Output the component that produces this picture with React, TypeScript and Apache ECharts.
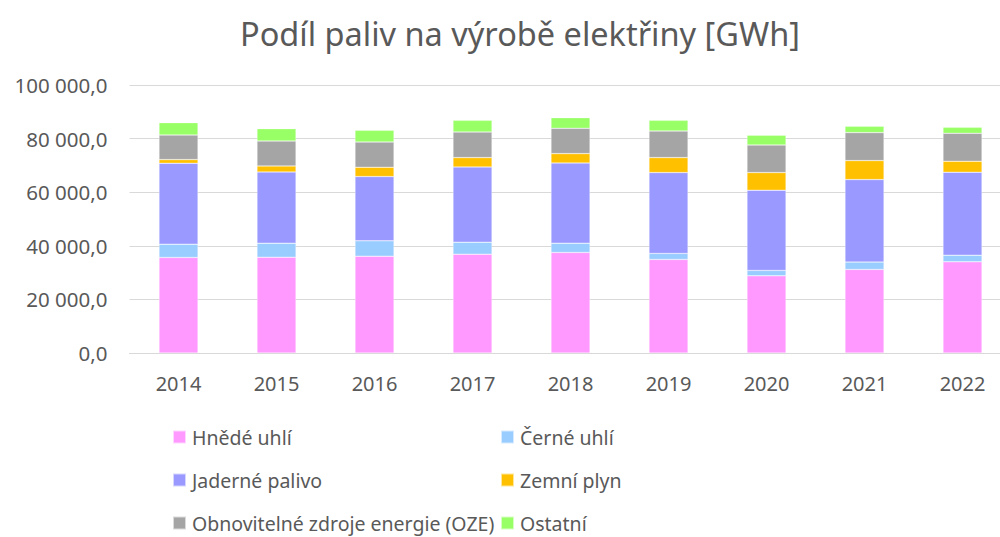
import React, { useEffect, useRef } from "react";
import * as echarts from "echarts";

const years = ["2014", "2015", "2016", "2017", "2018", "2019", "2020", "2021", "2022"];
const hnedeUhli = [35660, 35770, 36140, 36890, 37520, 34910, 28800, 31190, 34020];
const cerneUhli = [4950, 5220, 5700, 4470, 3470, 2240, 2010, 2720, 2490];
const jadernePalivo = [30190, 26560, 24000, 28060, 29920, 30180, 29920, 30810, 30930];
const zemniPlyn = [1370, 2240, 3460, 3500, 3500, 5590, 6600, 7080, 4100];
const oze = [9170, 9310, 9430, 9540, 9430, 9910, 10280, 10430, 10430];
const ostatni = [4620, 4620, 4360, 4360, 3980, 3990, 3620, 2350, 2240];
const yTicks = [0, 20000, 40000, 60000, 80000, 100000];

const seriesDefs = [
  { name: "Hnědé uhlí", data: hnedeUhli, color: "#FF99FF" },
  { name: "Černé uhlí", data: cerneUhli, color: "#99CCFF" },
  { name: "Jaderné palivo", data: jadernePalivo, color: "#9999FF" },
  { name: "Zemní plyn", data: zemniPlyn, color: "#FFC000" },
  { name: "Obnovitelné zdroje energie (OZE)", data: oze, color: "#A5A5A5" },
  { name: "Ostatní", data: ostatni, color: "#99FF66" },
];

function fmt(v: number): string {
  const s = Math.round(v).toString().replace(/\B(?=(\d{3})+(?!\d))/g, " ");
  return s + ",0";
}

const FONT = "Noto Sans";
const TXT = "#595959";

export default function App() {
  const ref = useRef<HTMLDivElement>(null);
  useEffect(() => {
    document.body.style.margin = "0";
    const chart = echarts.init(ref.current!, null, { renderer: "svg" });
    const legendText = { fontFamily: FONT, fontSize: 19.5, color: TXT };
    const legendBase = {
      orient: "vertical",
      top: 427,
      padding: 0,
      itemWidth: 13,
      itemHeight: 13,
      itemGap: 23,
      icon: "rect",
      textStyle: { ...legendText, padding: [0, 0, 0, 1] },
    };
    chart.setOption({
      animation: false,
      title: {
        text: "Podíl paliv na výrobě elektřiny [GWh]",
        left: 515,
        textAlign: "center",
        top: 12,
        textStyle: { fontFamily: FONT, fontSize: 32.5, fontWeight: "normal", color: TXT },
      },
      grid: { left: 129.5, width: 882, top: 85, height: 268, containLabel: false },
      legend: [
        { ...legendBase, left: 172, data: ["Hnědé uhlí", "Jaderné palivo", "Obnovitelné zdroje energie (OZE)"] },
        { ...legendBase, left: 500, data: ["Černé uhlí", "Zemní plyn", "Ostatní"] },
      ],
      xAxis: {
        type: "category",
        data: years,
        axisLine: { lineStyle: { color: "#D9D9D9", width: 1 } },
        axisTick: { show: false },
        axisLabel: { fontFamily: FONT, fontSize: 20, color: TXT, margin: 20 },
      },
      yAxis: {
        type: "value",
        min: 0,
        max: 100000,
        interval: 20000,
        axisLine: { show: false },
        axisTick: { show: false },
        splitLine: { lineStyle: { color: "#D9D9D9", width: 1 } },
        axisLabel: {
          fontFamily: FONT,
          fontSize: 20.5,
          color: TXT,
          margin: 22,
          formatter: (v: number) => (yTicks.includes(v) ? fmt(v) : ""),
        },
      },
      series: seriesDefs.map((s) => ({
        name: s.name,
        type: "bar",
        stack: "total",
        barWidth: 39,
        data: s.data,
        itemStyle: { color: s.color, borderColor: "rgba(255,255,255,0.6)", borderWidth: 0.5 },
      })),
    });
    return () => chart.dispose();
  }, []);
  return (
    <div style={{ width: 1000, height: 537, overflow: "hidden" }}>
      <div ref={ref} style={{ width: 1030, height: 537 }} />
    </div>
  );
}
